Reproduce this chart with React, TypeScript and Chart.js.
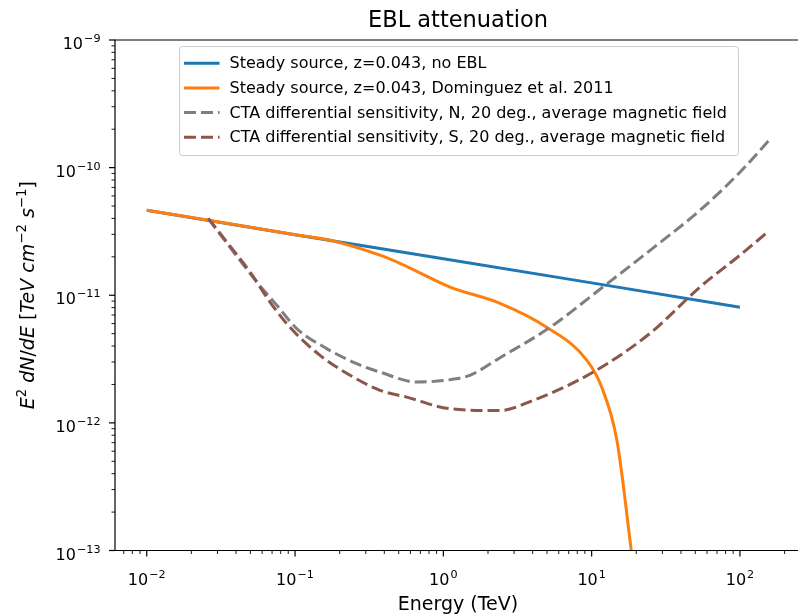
import React, { useEffect, useRef } from "react";
import { Chart, registerables } from "chart.js";

Chart.register(...registerables);

// ---- data ----
const noEblEnergy = [0.01, 0.1, 1, 10, 100];
const noEblFlux = [4.64e-11, 2.98e-11, 1.93e-11, 1.25e-11, 8.05e-12];

const eblEnergy = [0.01, 0.03, 0.1, 0.17, 0.374, 0.51, 1.11, 2.41, 5.0, 9.3, 11.7, 14.8, 18.5, 22.5];
const eblFlux = [4.64e-11, 3.77e-11, 2.98e-11, 2.71e-11, 2.06e-11, 1.78e-11, 1.16e-11, 8.65e-12, 5.6e-12, 3.09e-12, 1.9e-12, 7.3e-13, 1.0e-13, 1.6e-14];

const ctaNEnergy = [0.026, 0.0384, 0.0552, 0.0753, 0.1026, 0.1636, 0.2606, 0.374, 0.662, 1.055, 1.51, 2.41, 5.25, 11.9, 24.8, 53.8, 100, 157];
const ctaNFlux = [4.0e-11, 2.19e-11, 1.27e-11, 8.35e-12, 5.48e-12, 3.82e-12, 2.91e-12, 2.5e-12, 2.09e-12, 2.16e-12, 2.36e-12, 3.24e-12, 5.61e-12, 1.16e-11, 2.25e-11, 4.64e-11, 9.2e-11, 1.64e-10];

const ctaSEnergy = [0.026, 0.0346, 0.0498, 0.0678, 0.0924, 0.1475, 0.235, 0.374, 0.567, 1.11, 2.41, 4.03, 10.2, 24.8, 53.8, 100, 154];
const ctaSFlux = [4.0e-11, 2.62e-11, 1.52e-11, 8.85e-12, 5.61e-12, 3.38e-12, 2.36e-12, 1.8e-12, 1.59e-12, 1.29e-12, 1.25e-12, 1.5e-12, 2.49e-12, 5.04e-12, 1.16e-11, 2.06e-11, 3.13e-11];

const xTickValues = [0.01, 0.1, 1, 10, 100];
const yTickValues = [1e-13, 1e-12, 1e-11, 1e-10, 1e-9];

const seriesLabels = [
  "Steady source, z=0.043, no EBL",
  "Steady source, z=0.043, Dominguez et al. 2011",
  "CTA differential sensitivity, N, 20 deg., average magnetic field",
  "CTA differential sensitivity, S, 20 deg., average magnetic field",
];
const seriesColors = ["#1f77b4", "#ff7f0e", "#7f7f7f", "#8c564b"];
const seriesDashed = [false, false, true, true];

const titleText = "EBL attenuation";
const xTitle = "Energy (TeV)";
// y-axis label pieces: [text, italic, superscript]
const yTitlePieces: [string, boolean, boolean][] = [
  ["E", true, false], ["2", false, true], [" dN", true, false], ["/", false, false],
  ["dE", true, false], [" [", false, false], ["TeV", true, false], [" cm", true, false],
  ["\u22122", false, true], [" s", true, false], ["\u22121", false, true], ["]", false, false],
];

const FONT = "'DejaVu Sans', sans-serif";
const DASH = [12, 5];

const toPts = (xs: number[], ys: number[]) => xs.map((x, i) => ({ x, y: ys[i] }));

const expOf = (v: number) => {
  const e = Math.round(Math.log10(v));
  return (e < 0 ? "\u2212" : "") + String(Math.abs(e));
};

function drawPow(ctx: CanvasRenderingContext2D, v: number, x: number, base: number, align: "center" | "right") {
  const b = "10";
  const e = expOf(v);
  ctx.font = `16px ${FONT}`;
  const w1 = ctx.measureText(b).width;
  ctx.font = `11.2px ${FONT}`;
  const w2 = ctx.measureText(e).width;
  const total = w1 + 1 + w2;
  const sx = align === "center" ? x - total / 2 : x - total;
  ctx.textAlign = "left";
  ctx.textBaseline = "alphabetic";
  ctx.font = `16px ${FONT}`;
  ctx.fillText(b, sx, base);
  ctx.font = `11.2px ${FONT}`;
  ctx.fillText(e, sx + w1 + 1, base - 7);
}

const decorPlugin = {
  id: "decor",
  afterDraw(chart: any) {
    const { ctx, chartArea } = chart;
    const { left, right, top, bottom } = chartArea;
    const xs = chart.scales.x;
    const ys = chart.scales.y;
    ctx.save();

    // spines
    ctx.strokeStyle = "#000";
    ctx.lineWidth = 1.2;
    ctx.setLineDash([]);
    ctx.beginPath();
    ctx.moveTo(left, top);
    ctx.lineTo(right, top);
    ctx.lineTo(right, bottom);
    ctx.lineTo(left, bottom);
    ctx.closePath();
    ctx.stroke();

    // tick marks
    for (let d = -4; d <= 3; d++) {
      for (let k = 1; k <= 9; k++) {
        const v = k * Math.pow(10, d);
        if (v >= xs.min && v <= xs.max) {
          const p = xs.getPixelForValue(v);
          ctx.lineWidth = k === 1 ? 1.2 : 0.9;
          ctx.beginPath();
          ctx.moveTo(p, bottom);
          ctx.lineTo(p, bottom + (k === 1 ? 6 : 3.5));
          ctx.stroke();
        }
      }
    }
    for (let d = -14; d <= -8; d++) {
      for (let k = 1; k <= 9; k++) {
        const v = k * Math.pow(10, d);
        if (v >= ys.min * 0.999 && v <= ys.max * 1.001) {
          const p = ys.getPixelForValue(v);
          ctx.lineWidth = k === 1 ? 1.2 : 0.9;
          ctx.beginPath();
          ctx.moveTo(left, p);
          ctx.lineTo(left - (k === 1 ? 6 : 3.5), p);
          ctx.stroke();
        }
      }
    }

    // tick labels
    ctx.fillStyle = "#000";
    xTickValues.forEach((v) => drawPow(ctx, v, xs.getPixelForValue(v), 585, "center"));
    yTickValues.forEach((v) => drawPow(ctx, v, 100.5, ys.getPixelForValue(v) + 9, "right"));

    // y-axis label (rotated)
    ctx.save();
    ctx.translate(34, (top + bottom) / 2);
    ctx.rotate(-Math.PI / 2);
    const fontFor = (it: boolean, sup: boolean) =>
      `${it ? "italic " : ""}${sup ? 13.3 : 19}px ${FONT}`;
    let total = 0;
    yTitlePieces.forEach(([t, it, sup]) => {
      ctx.font = fontFor(it, sup);
      total += ctx.measureText(t).width;
    });
    let cx = -total / 2;
    ctx.textAlign = "left";
    ctx.textBaseline = "alphabetic";
    yTitlePieces.forEach(([t, it, sup]) => {
      ctx.font = fontFor(it, sup);
      ctx.fillText(t, cx, sup ? -8 : 0);
      cx += ctx.measureText(t).width;
    });
    ctx.restore();

    // title
    ctx.fillStyle = "#000";
    ctx.font = `22.5px ${FONT}`;
    ctx.textAlign = "center";
    ctx.textBaseline = "alphabetic";
    ctx.fillText(titleText, (left + right) / 2, 26.7);

    // legend
    const bx = 179.5, by = 46.5, bw = 559, bh = 109;
    ctx.beginPath();
    ctx.roundRect(bx, by, bw, bh, 3);
    ctx.fillStyle = "rgba(255,255,255,0.8)";
    ctx.fill();
    ctx.strokeStyle = "#cccccc";
    ctx.lineWidth = 1;
    ctx.stroke();
    ctx.font = `16px ${FONT}`;
    ctx.textAlign = "left";
    ctx.textBaseline = "middle";
    seriesLabels.forEach((lab, i) => {
      const y = 63.2 + i * 24.7;
      ctx.strokeStyle = seriesColors[i];
      ctx.lineWidth = 3;
      ctx.lineCap = "butt";
      ctx.setLineDash(seriesDashed[i] ? DASH : []);
      ctx.beginPath();
      ctx.moveTo(184, y);
      ctx.lineTo(219.5, y);
      ctx.stroke();
      ctx.setLineDash([]);
      ctx.fillStyle = "#000";
      ctx.fillText(lab, 229.5, y + 1);
    });
    ctx.restore();
  },
};

export default function App() {
  const ref = useRef<HTMLCanvasElement | null>(null);
  useEffect(() => {
    if (!ref.current) return;
    const series = [
      toPts(noEblEnergy, noEblFlux),
      toPts(eblEnergy, eblFlux),
      toPts(ctaNEnergy, ctaNFlux),
      toPts(ctaSEnergy, ctaSFlux),
    ];
    const chart = new Chart(ref.current, {
      type: "line",
      data: {
        datasets: series.map((d, i) => ({
          label: seriesLabels[i],
          data: d,
          borderColor: seriesColors[i],
          backgroundColor: seriesColors[i],
          borderWidth: 3,
          borderDash: seriesDashed[i] ? DASH : [],
          borderCapStyle: "butt",
          pointRadius: 0,
          fill: false,
          cubicInterpolationMode: i === 0 ? "default" : "monotone",
          order: 4 - i,
        })),
      },
      options: {
        animation: false,
        responsive: false,
        devicePixelRatio: 1,
        parsing: false as any,
        layout: { padding: { top: 40, right: 9, left: 0, bottom: 0 } },
        plugins: { legend: { display: false }, title: { display: false }, tooltip: { enabled: false } },
        scales: {
          x: {
            type: "logarithmic",
            position: "bottom",
            bounds: "data",
            min: 0.00611,
            max: 258,
            grid: { display: false },
            border: { display: false },
            ticks: { display: false },
            afterBuildTicks: (s: any) => {
              s.ticks = xTickValues.map((v) => ({ value: v }));
            },
            afterFit: (s: any) => {
              s.height = 65.5;
            },
            title: {
              display: true,
              text: xTitle,
              color: "#000",
              font: { family: FONT, size: 19 },
              padding: { top: 0, bottom: 0 },
            },
          },
          y: {
            type: "logarithmic",
            position: "left",
            bounds: "data",
            min: 1e-13,
            max: 1e-9,
            grid: { display: false },
            border: { display: false },
            ticks: { display: false },
            afterBuildTicks: (s: any) => {
              s.ticks = yTickValues.map((v) => ({ value: v }));
            },
            afterFit: (s: any) => {
              s.width = 115;
            },
            title: { display: false },
          },
        },
      },
      plugins: [decorPlugin],
    } as any);
    return () => chart.destroy();
  }, []);

  return (
    <div style={{ position: "fixed", left: 0, top: 0, width: 798, height: 616, overflow: "hidden", background: "#fff" }}>
      <canvas ref={ref} width={810} height={616} style={{ display: "block", width: 810, height: 616 }} />
    </div>
  );
}
